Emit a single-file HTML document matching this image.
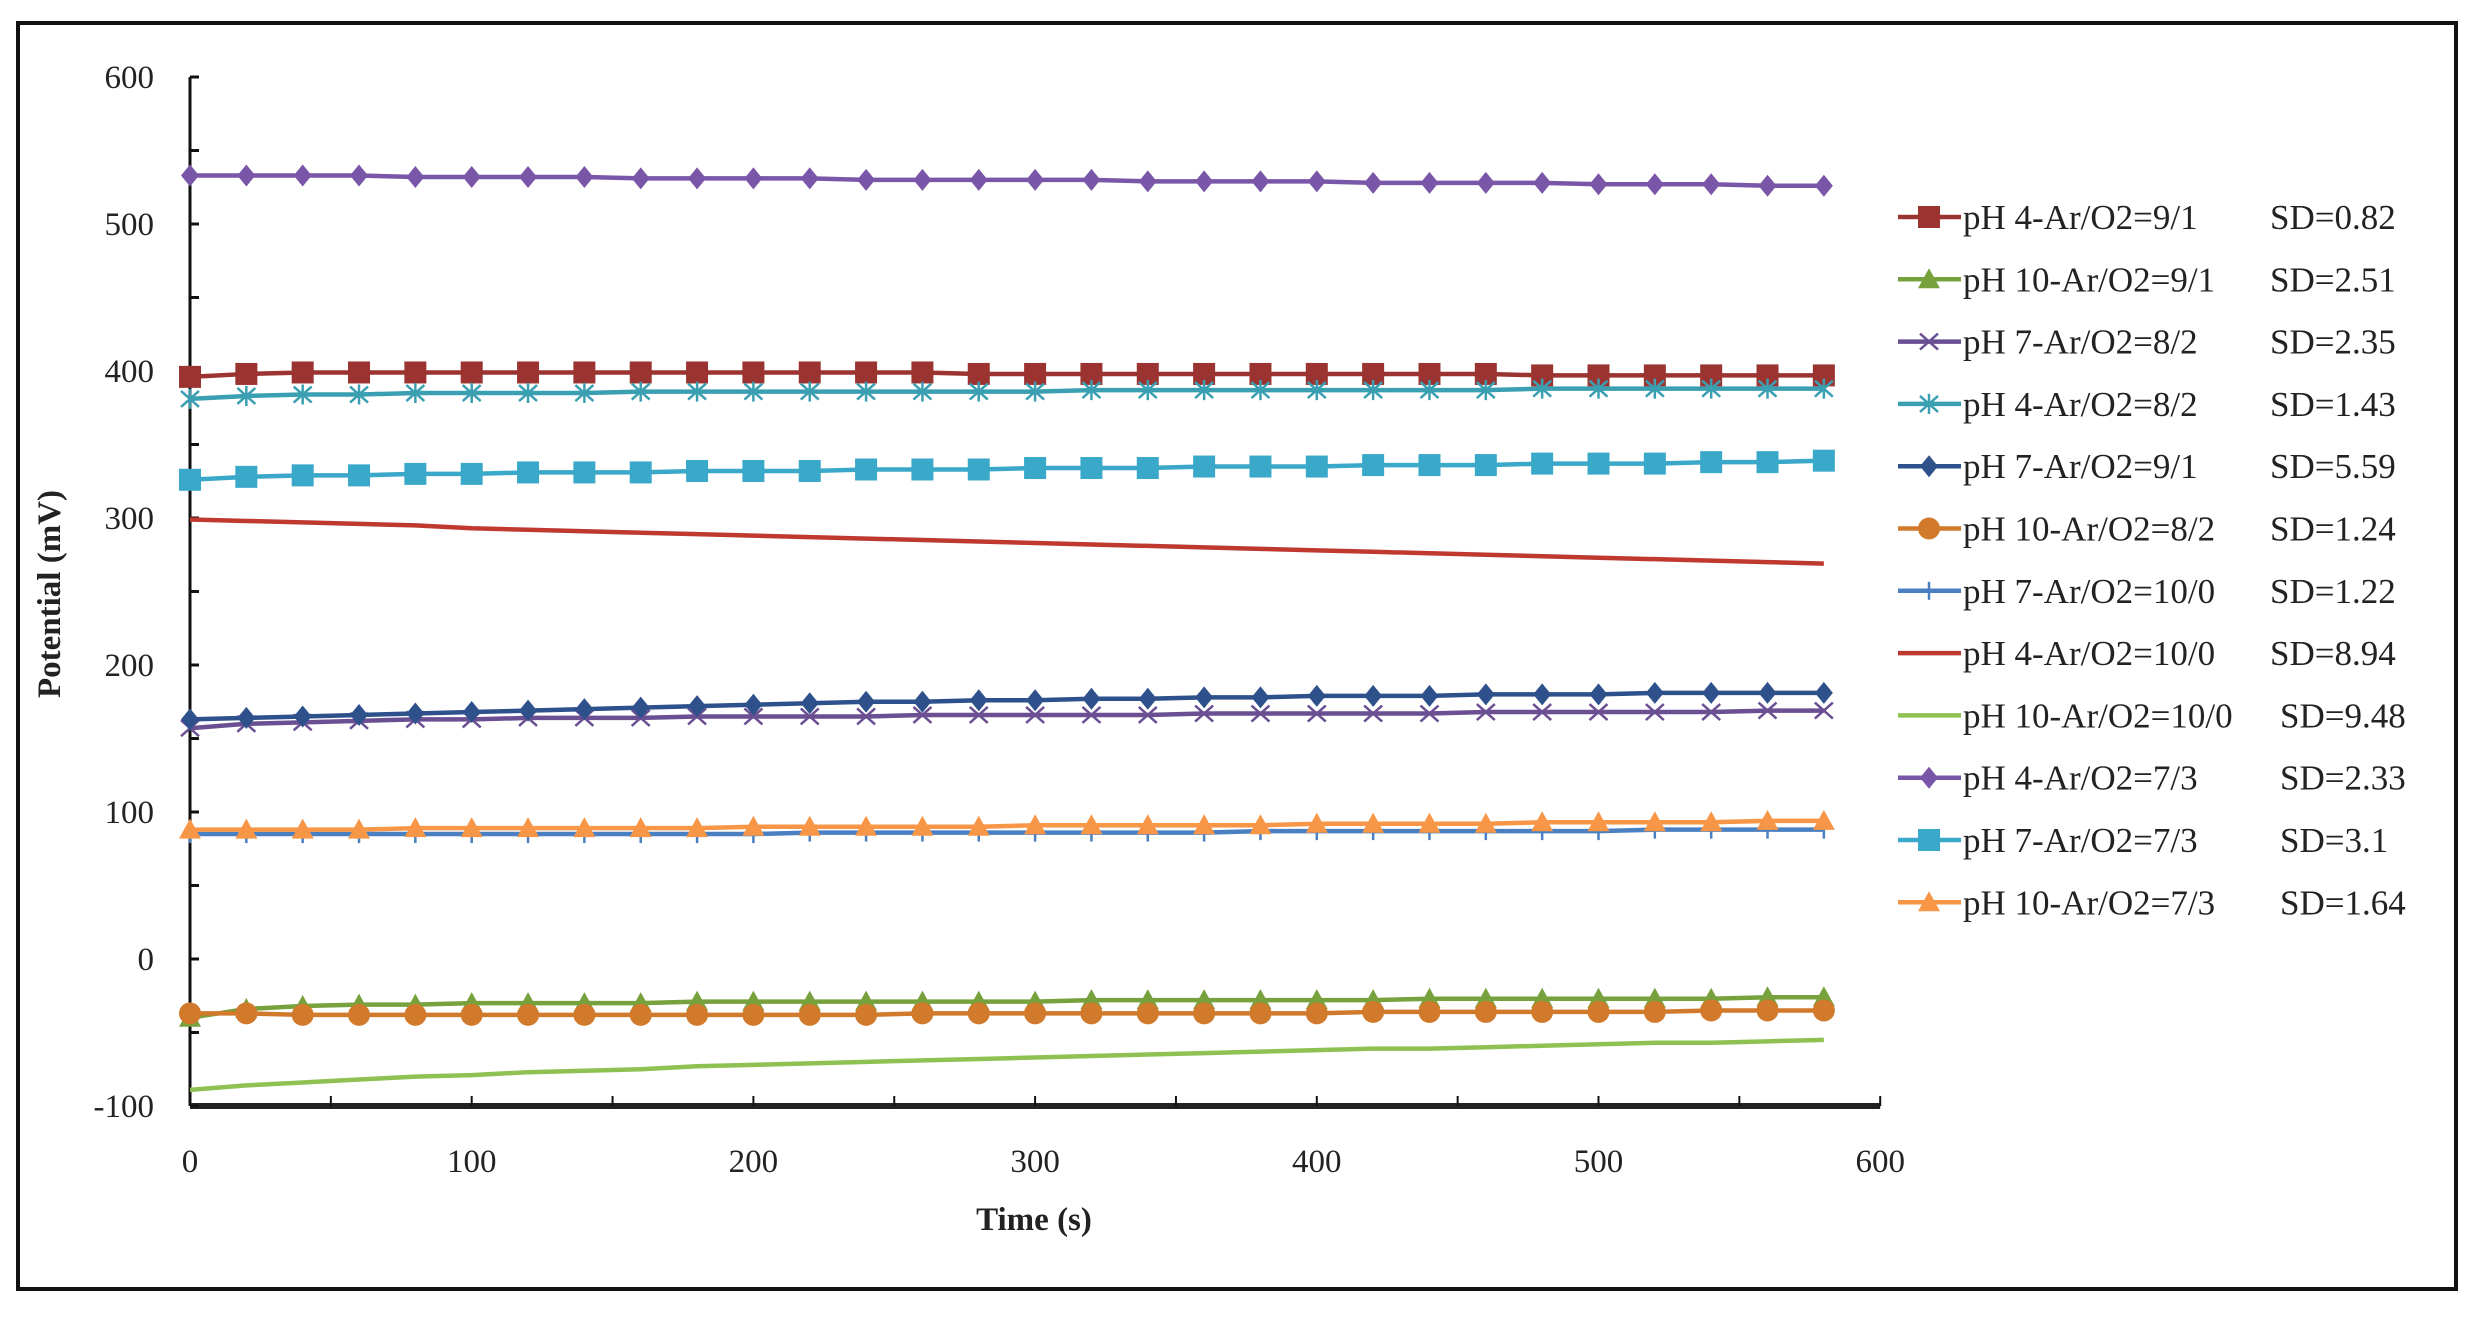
<!DOCTYPE html>
<html><head><meta charset="utf-8"><style>
html,body{margin:0;padding:0;background:#fff;}
svg{display:block;}
text{font-family:"Liberation Serif",serif;fill:#222;}
</style></head><body>
<svg id="chart" width="2482" height="1321" viewBox="0 0 2482 1321" xmlns="http://www.w3.org/2000/svg">
<rect x="18" y="23" width="2438" height="1266" fill="#fff" stroke="#111" stroke-width="4"/>
<g id="grid"></g><g id="series"></g><g id="legend"></g>
<text transform="translate(60,594) rotate(-90)" text-anchor="middle" font-size="33" font-weight="bold">Potential (mV)</text>
<text x="1034" y="1230" text-anchor="middle" font-size="33" font-weight="bold">Time (s)</text>
</svg>
<script>
const times = [0,20,40,60,80,100,120,140,160,180,200,220,240,260,280,300,320,340,360,380,400,420,440,460,480,500,520,540,560,580];
const yTicks = [600,500,400,300,200,100,0,-100];
const xTicks = [0,100,200,300,400,500,600];
const names = ["pH 4-Ar/O2=9/1","pH 10-Ar/O2=9/1","pH 7-Ar/O2=8/2","pH 4-Ar/O2=8/2","pH 7-Ar/O2=9/1","pH 10-Ar/O2=8/2","pH 7-Ar/O2=10/0","pH 4-Ar/O2=10/0","pH 10-Ar/O2=10/0","pH 4-Ar/O2=7/3","pH 7-Ar/O2=7/3","pH 10-Ar/O2=7/3"];
const sds = ["SD=0.82","SD=2.51","SD=2.35","SD=1.43","SD=5.59","SD=1.24","SD=1.22","SD=8.94","SD=9.48","SD=2.33","SD=3.1","SD=1.64"];
const s_ph4_91 = [396,398,399,399,399,399,399,399,399,399,399,399,399,399,398,398,398,398,398,398,398,398,398,398,397,397,397,397,397,397];
const s_ph10_91 = [-40,-34,-32,-31,-31,-30,-30,-30,-30,-29,-29,-29,-29,-29,-29,-29,-28,-28,-28,-28,-28,-28,-27,-27,-27,-27,-27,-27,-26,-26];
const s_ph7_82 = [157,160,161,162,163,163,164,164,164,165,165,165,165,166,166,166,166,166,167,167,167,167,167,168,168,168,168,168,169,169];
const s_ph4_82 = [381,383,384,384,385,385,385,385,386,386,386,386,386,386,386,386,387,387,387,387,387,387,387,387,388,388,388,388,388,388];
const s_ph7_91 = [163,164,165,166,167,168,169,170,171,172,173,174,175,175,176,176,177,177,178,178,179,179,179,180,180,180,181,181,181,181];
const s_ph10_82 = [-37,-37,-38,-38,-38,-38,-38,-38,-38,-38,-38,-38,-38,-37,-37,-37,-37,-37,-37,-37,-37,-36,-36,-36,-36,-36,-36,-35,-35,-35];
const s_ph7_100 = [85,85,85,85,85,85,85,85,85,85,85,86,86,86,86,86,86,86,86,87,87,87,87,87,87,87,88,88,88,88];
const s_ph4_100 = [299,298,297,296,295,293,292,291,290,289,288,287,286,285,284,283,282,281,280,279,278,277,276,275,274,273,272,271,270,269];
const s_ph10_100 = [-89,-86,-84,-82,-80,-79,-77,-76,-75,-73,-72,-71,-70,-69,-68,-67,-66,-65,-64,-63,-62,-61,-61,-60,-59,-58,-57,-57,-56,-55];
const s_ph4_73 = [533,533,533,533,532,532,532,532,531,531,531,531,530,530,530,530,530,529,529,529,529,528,528,528,528,527,527,527,526,526];
const s_ph7_73 = [326,328,329,329,330,330,331,331,331,332,332,332,333,333,333,334,334,334,335,335,335,336,336,336,337,337,337,338,338,339];
const s_ph10_73 = [88,88,88,88,89,89,89,89,89,89,90,90,90,90,90,91,91,91,91,91,92,92,92,92,93,93,93,93,94,94];

const NS="http://www.w3.org/2000/svg";
const X0=190, XS=281.7/100, Y0=959, YS=147/100;
const xs=v=>X0+v*XS, ys=v=>Y0-v*YS;
function mk(tag,attrs,parent){const e=document.createElementNS(NS,tag);for(const k in attrs)e.setAttribute(k,attrs[k]);parent.appendChild(e);return e;}
const grid=document.getElementById('grid'), ser=document.getElementById('series'), leg=document.getElementById('legend');

let ya=mk('line',{x1:xs(0),y1:ys(600),x2:xs(0),y2:ys(-100),stroke:'#111','stroke-width':3},grid);


let xa=mk('line',{x1:xs(0),y1:ys(-100),x2:xs(600),y2:ys(-100),stroke:'#222','stroke-width':6},grid);


for(let v=-100;v<=600;v+=50){mk('line',{x1:xs(0),y1:ys(v),x2:xs(0)+9,y2:ys(v),stroke:'#111','stroke-width':3},grid);}
for(let v=0;v<=600;v+=50){mk('line',{x1:xs(v),y1:ys(-100),x2:xs(v),y2:ys(-100)-10,stroke:'#111','stroke-width':2},grid);}
yTicks.forEach(v=>{const t=mk('text',{x:154,y:ys(v)+11,'text-anchor':'end','font-size':33},grid);t.textContent=v;

});
xTicks.forEach(v=>{const t=mk('text',{x:xs(v),y:1172,'text-anchor':'middle','font-size':33},grid);t.textContent=v;

});

const series=[
 {d:s_ph4_91,c:'#9b3431',m:'square'},
 {d:s_ph10_91,c:'#77a13c',m:'triangle'},
 {d:s_ph7_82,c:'#6a4f93',m:'x'},
 {d:s_ph4_82,c:'#3b9fb2',m:'star'},
 {d:s_ph7_91,c:'#2e518c',m:'diamond'},
 {d:s_ph10_82,c:'#d27a2b',m:'circle'},
 {d:s_ph7_100,c:'#4a7fc1',m:'plus'},
 {d:s_ph4_100,c:'#c0392f',m:'none'},
 {d:s_ph10_100,c:'#8fc152',m:'none'},
 {d:s_ph4_73,c:'#7a56a8',m:'diamond'},
 {d:s_ph7_73,c:'#3aa8c9',m:'square'},
 {d:s_ph10_73,c:'#f79646',m:'triangle'}
];
function marker(type,x,y,c,g){
 const s=11;
 if(type==='square')mk('rect',{x:x-s,y:y-s,width:2*s,height:2*s,fill:c},g);
 else if(type==='triangle')mk('polygon',{points:`${x},${y-s} ${x+s},${y+s-2} ${x-s},${y+s-2}`,fill:c},g);
 else if(type==='diamond')mk('polygon',{points:`${x},${y-s} ${x+s-2},${y} ${x},${y+s} ${x-s+2},${y}`,fill:c},g);
 else if(type==='circle')mk('circle',{cx:x,cy:y,r:s,fill:c},g);
 else if(type==='x'){mk('path',{d:`M${x-9},${y-8}L${x+9},${y+8}M${x-9},${y+8}L${x+9},${y-8}`,stroke:c,'stroke-width':2.5,fill:'none'},g);}
 else if(type==='star'){mk('path',{d:`M${x-9},${y-8}L${x+9},${y+8}M${x-9},${y+8}L${x+9},${y-8}M${x},${y-10}L${x},${y+10}`,stroke:c,'stroke-width':2.5,fill:'none'},g);}
 else if(type==='plus'){mk('path',{d:`M${x},${y-9}L${x},${y+9}`,stroke:c,'stroke-width':2.5,fill:'none'},g);}
}
series.forEach((s,i)=>{
 const g=mk('g',{},ser);
 
 
 const pts=s.d.map((v,j)=>xs(times[j])+','+ys(v)).join(' ');
 const pl=mk('polyline',{points:pts,fill:'none',stroke:s.c,'stroke-width':4.5},g);
 
 
 s.d.forEach((v,j)=>marker(s.m,xs(times[j]),ys(v),s.c,g));
 const ly=217+i*62.3;
 const lg=mk('g',{},leg);
 
 
 mk('line',{x1:1898,y1:ly,x2:1961,y2:ly,stroke:s.c,'stroke-width':4.5},lg);
 marker(s.m,1929,ly,s.c,lg);
 const t=mk('text',{x:1963,y:ly+12,'font-size':35},lg);t.textContent=names[i];
 const sd=mk('text',{x:(i>=8?2280:2270),y:ly+12,'font-size':35},lg);sd.textContent=sds[i];
});
</script>
</body></html>
